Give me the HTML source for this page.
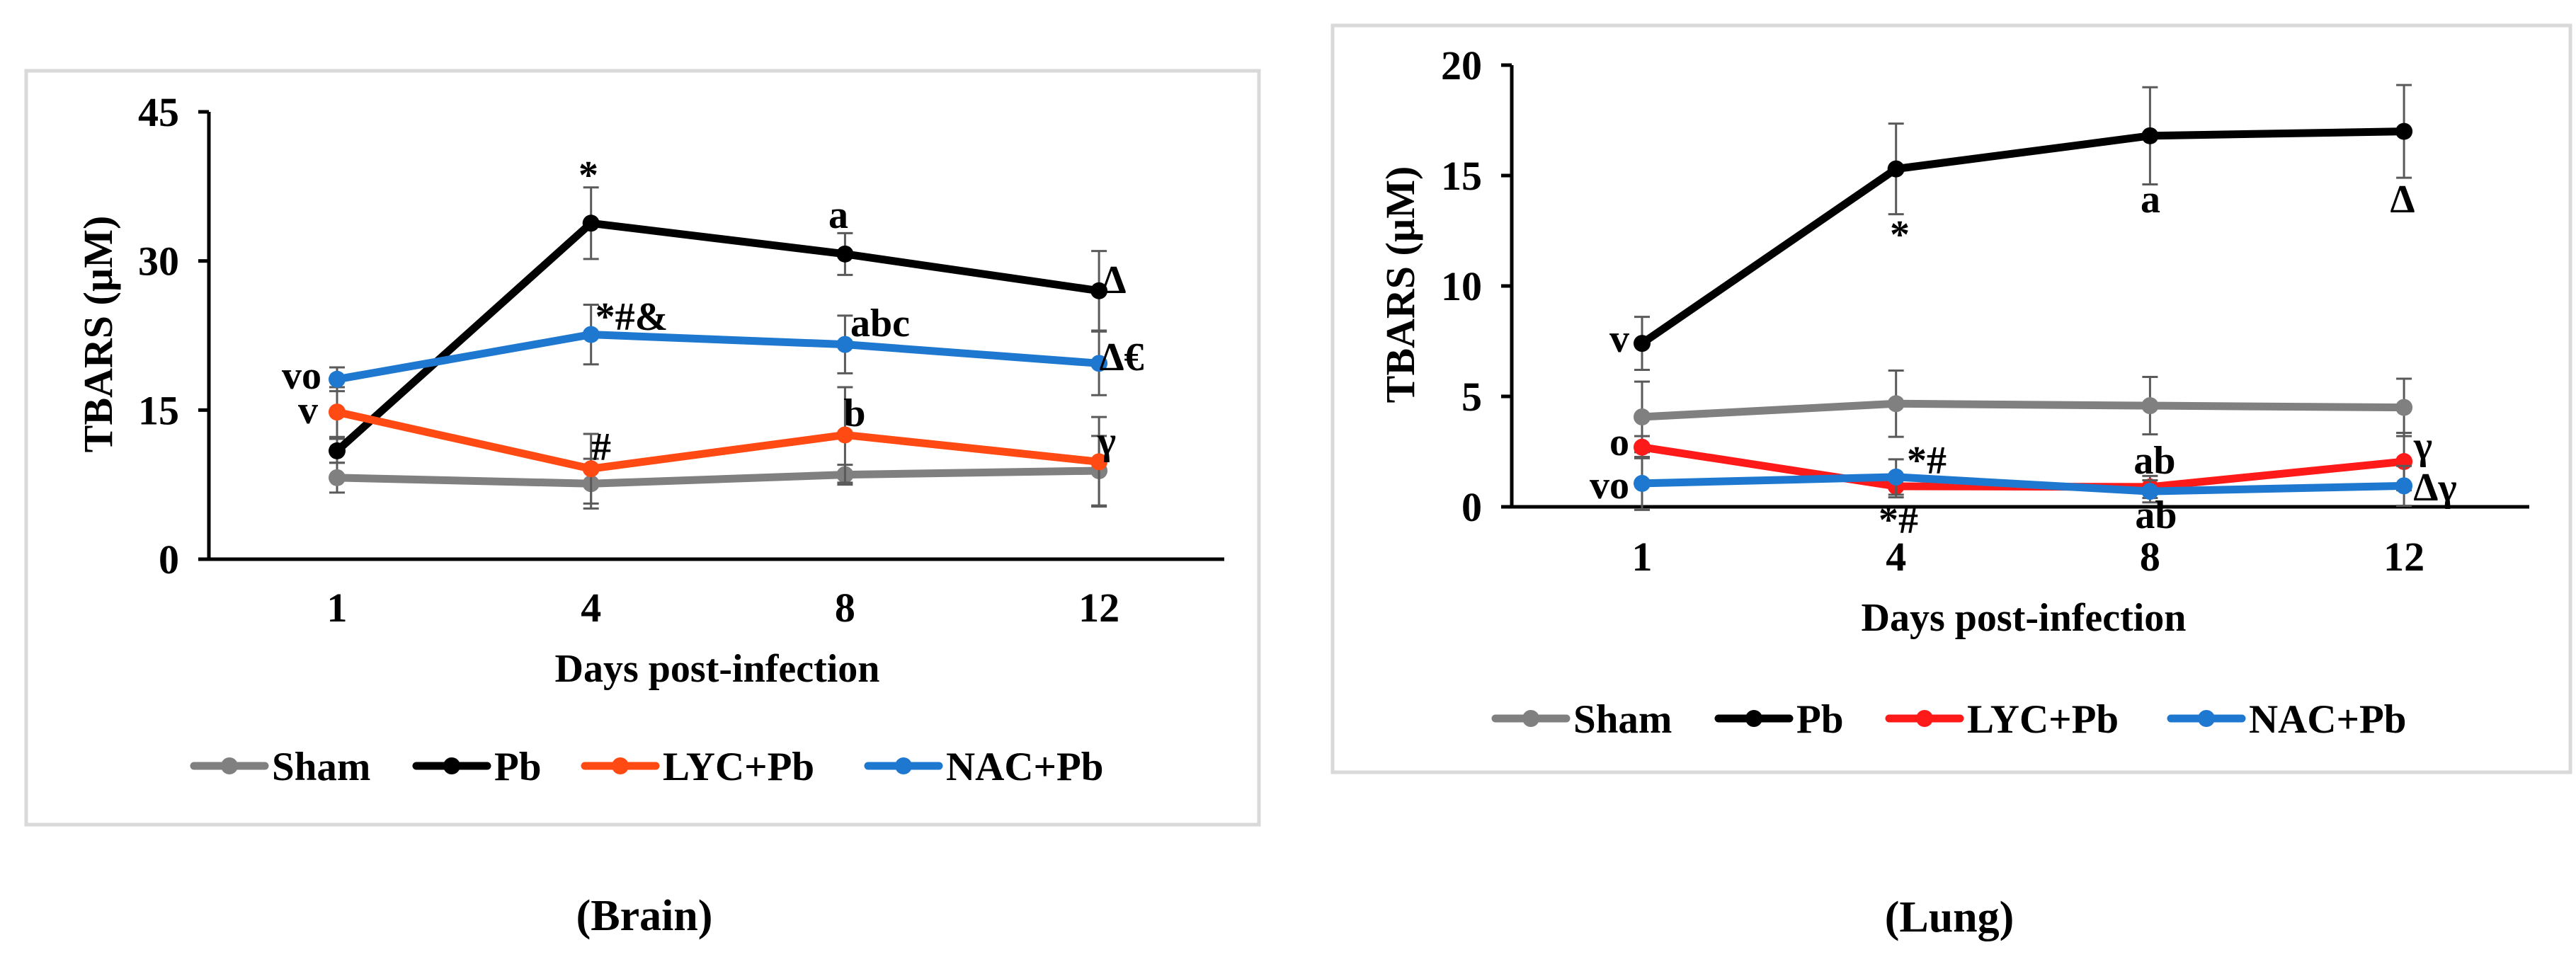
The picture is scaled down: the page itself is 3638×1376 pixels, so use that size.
<!DOCTYPE html>
<html><head><meta charset="utf-8"><style>
html,body{margin:0;padding:0;background:#fff;}
svg{display:block;font-family:"Liberation Serif","DejaVu Serif",serif;font-weight:bold;}
</style></head><body>
<svg id="fig" width="3638" height="1376" viewBox="0 0 3638 1376" xmlns="http://www.w3.org/2000/svg">
<rect x="37" y="100" width="1741" height="1065" fill="#fff" stroke="#d9d9d9" stroke-width="5"/>
<rect x="1882" y="36" width="1748" height="1055" fill="#fff" stroke="#d9d9d9" stroke-width="5"/>
<text x="910" y="1314" font-size="62" text-anchor="middle">(Brain)</text>
<text x="2753" y="1316" font-size="62" text-anchor="middle">(Lung)</text>
</svg>
<script>
// ---- data ----
const days = ["1","4","8","12"];
const seriesNames = ["Sham","Pb","LYC+Pb","NAC+Pb"];
const brainTicks = [0,15,30,45];
const brainSham = [8.2,7.6,8.5,8.9];
const brainPb = [10.9,33.8,30.7,27.0];
const brainLyc = [14.8,9.1,12.5,9.8];
const brainNac = [18.1,22.6,21.6,19.7];
const brainShamErr = [1.5,2.5,1.0,3.5];
const brainPbErr = [1.2,3.6,2.1,4.0];
const brainLycErr = [2.5,3.5,4.8,4.5];
const brainNacErr = [1.2,3.0,2.9,3.2];
const lungTicks = [0,5,10,15,20];
const lungSham = [4.07,4.67,4.58,4.5];
const lungPb = [7.4,15.3,16.8,17.0];
const lungLyc = [2.7,0.93,0.9,2.05];
const lungNac = [1.06,1.35,0.7,0.95];
const lungShamErr = [1.6,1.5,1.3,1.3];
const lungPbErr = [1.2,2.05,2.2,2.1];
const lungLycErr = [0.5,0.5,0.5,1.3];
const lungNacErr = [1.2,0.8,0.5,0.9];

const NS="http://www.w3.org/2000/svg";
const svg=document.getElementById('fig');
function el(tag,attrs,parent){const e=document.createElementNS(NS,tag);for(const k in attrs)e.setAttribute(k,attrs[k]);(parent||svg).appendChild(e);return e;}
function txt(s,x,y,size,anchor,parent){const t=el('text',{x:x,y:y,'font-size':size,'text-anchor':anchor||'middle'},parent);t.textContent=s;return t;}

const colorsBrain=["#808080","#000000","#ff4a14","#1f78d0"];
const colorsLung=["#808080","#000000","#ff1a1a","#1f78d0"];

function chart(cfg){
  const g=el('g',{});
  
  
  const yS=v=>cfg.y0+(cfg.y1-cfg.y0)*(v/cfg.max);
  const xS=i=>cfg.xs0+cfg.dx*i;
  const ya=el('line',{x1:cfg.ax,y1:yS(cfg.max),x2:cfg.ax,y2:cfg.y0,stroke:'#000','stroke-width':5},g);
  
  
  const xa=el('line',{x1:cfg.ax-15,y1:cfg.y0,x2:cfg.axEnd,y2:cfg.y0,stroke:'#000','stroke-width':5},g);
  
  
  cfg.ticks.forEach(t=>{
    const tk=el('line',{x1:cfg.ax-15,y1:yS(t),x2:cfg.ax,y2:yS(t),stroke:'#000','stroke-width':5},g);
    
    
    const lb=txt(String(t),cfg.ax-42,yS(t)+20,58,'end',g);
    
    
  });
  days.forEach((d,i)=>{
    const lb=txt(d,xS(i),cfg.tickY+20,58,'middle',g);
    
    
  });
  const xt=txt("Days post-infection",cfg.xtX,cfg.xtY+20,56,'middle',g);
  
  
  const yt=txt("TBARS (µM)",0,0,58,'middle',g);
  yt.setAttribute('transform','translate('+(cfg.ytX+20)+','+cfg.ytY+') rotate(-90)');
  
  
  cfg.series.forEach((s,si)=>{
    const col=cfg.colors[si];
    const sg=el('g',{},g);
    
    
    s.vals.forEach((v,i)=>{
      const e=s.err[i];
      const eb=el('path',{d:'M'+xS(i)+' '+yS(v+e)+'V'+yS(v-e)+'M'+(xS(i)-11)+' '+yS(v+e)+'h22M'+(xS(i)-11)+' '+yS(v-e)+'h22',stroke:'#5a5a5a','stroke-width':3,fill:'none'},sg);
      
      
    });
    const pts=s.vals.map((v,i)=>xS(i)+','+yS(v)).join(' ');
    const pl=el('polyline',{points:pts,fill:'none',stroke:col,'stroke-width':11,'stroke-linejoin':'round'},sg);
    
    
    s.vals.forEach((v,i)=>{
      const c=el('circle',{cx:xS(i),cy:yS(v),r:12,fill:col},sg);
      
      
    });
  });
  cfg.notes.forEach(n=>{
    const t=txt(n[0],n[1],n[2]+20,56,'middle',g);
    
    
  });
  cfg.legend.forEach((lx,si)=>{
    const lg=el('g',{},g);
    
    
    el('line',{x1:lx,y1:cfg.legY,x2:lx+100,y2:cfg.legY,stroke:cfg.colors[si],'stroke-width':11,'stroke-linecap':'round'},lg);
    el('circle',{cx:lx+50,cy:cfg.legY,r:12,fill:cfg.colors[si]},lg);
    txt(seriesNames[si],lx+110,cfg.legY+20,57,'start',lg);
  });
}

chart({name:'brain-chart',y0:790,y1:158,max:45,ax:295,axEnd:1729,xs0:476,dx:358.7,ticks:brainTicks,
  tickY:858,xtX:1013,xtY:943,ytX:138,ytY:472,legY:1082,legend:[274,588,826,1226],colors:colorsBrain,
  series:[{vals:brainSham,err:brainShamErr},{vals:brainPb,err:brainPbErr},{vals:brainLyc,err:brainLycErr},{vals:brainNac,err:brainNacErr}],
  notes:[["*",831,246],["a",1184,302],["Δ",1573,394],["*#&",892,446],["abc",1243,455],["Δ€",1584,503],["vo",426,529],["v",435,578],["#",849,630],["b",1207,582],["γ",1563,621]]});

chart({name:'lung-chart',y0:716,y1:92,max:20,ax:2135,axEnd:3572,xs0:2319,dx:358.7,ticks:lungTicks,
  tickY:786,xtX:2858,xtY:871,ytX:1977,ytY:402,legY:1015,legend:[2112,2427,2668,3066],colors:colorsLung,
  series:[{vals:lungSham,err:lungShamErr},{vals:lungPb,err:lungPbErr},{vals:lungLyc,err:lungLycErr},{vals:lungNac,err:lungNacErr}],
  notes:[["v",2287,477],["*",2683,330],["a",3037,280],["Δ",3393,280],["o",2287,623],["*#",2721,649],["ab",3043,649],["γ",3422,628],["vo",2273,684],["Δγ",3439,687],["*#",2681,733],["ab",3045,726]]});
</script>
</body></html>
